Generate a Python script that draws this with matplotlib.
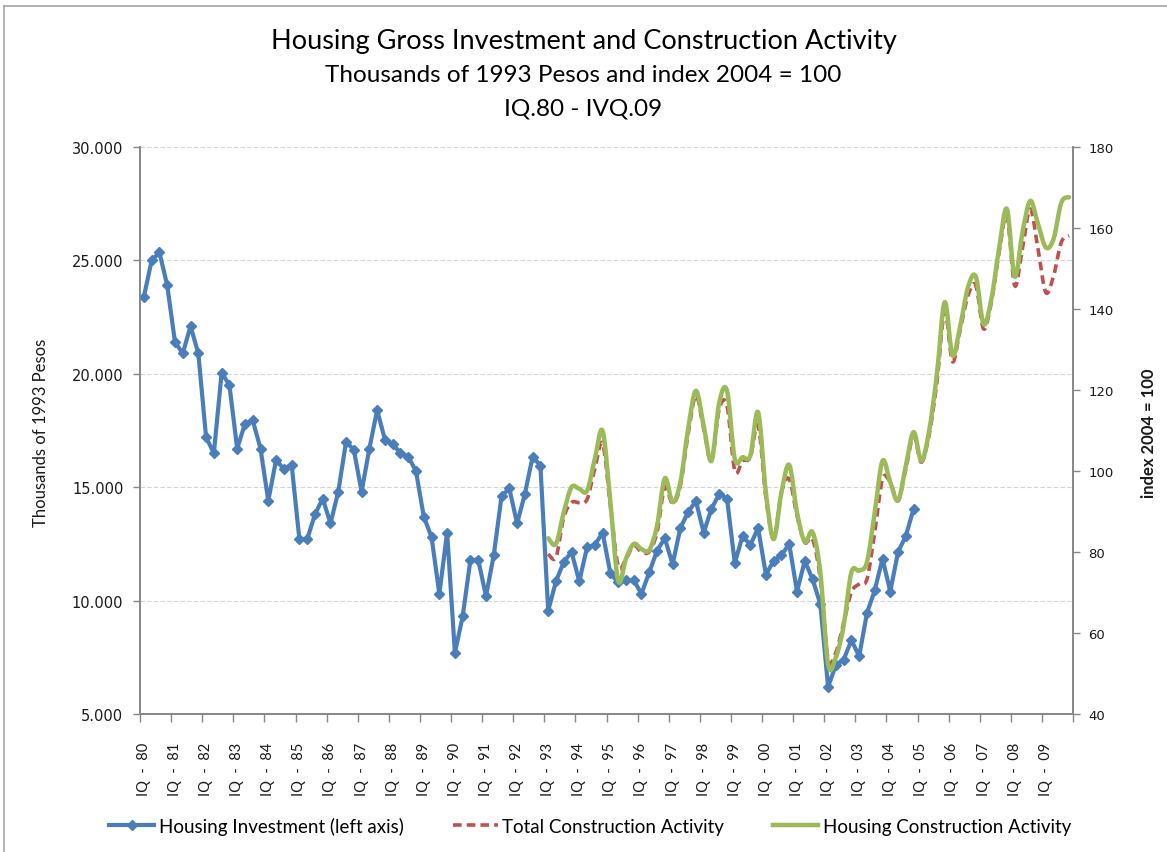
import numpy as np
import matplotlib.pyplot as plt
from matplotlib.path import Path
from matplotlib.patches import PathPatch
from matplotlib.lines import Line2D
from matplotlib.ticker import FuncFormatter

# quarter index 0 = IQ-80 ... 119 = IVQ-09
years = ["80", "81", "82", "83", "84", "85", "86", "87", "88", "89",
         "90", "91", "92", "93", "94", "95", "96", "97", "98", "99",
         "00", "01", "02", "03", "04", "05", "06", "07", "08", "09"]
n_quarters = 120

# Housing investment, thousands of 1993 pesos (IQ-80 .. IVQ-04)
housing_investment = [
    23400, 25000, 25350, 23900, 21400, 20900, 22100, 20900, 17200, 16500,
    20050, 19500, 16700, 17800, 17950, 16700, 14400, 16200, 15800, 16000,
    12700, 12700, 13800, 14500, 13400, 14800, 17000, 16650, 14800, 16700,
    18400, 17100, 16900, 16500, 16350, 15700, 13700, 12800, 10300, 13000,
    7700, 9300, 11800, 11800, 10200, 12000, 14600, 14950, 13400, 14700,
    16350, 15950, 9550, 10850, 11700, 12150, 10850, 12350, 12450, 13000,
    11200, 10800, 10900, 10900, 10300, 11250, 12200, 12750, 11600, 13200,
    13900, 14400, 13000, 14050, 14700, 14500, 11650, 12850, 12450, 13200,
    11150, 11750, 12000, 12500, 10400, 11750, 10950, 9850, 6200, 7150,
    7400, 8250, 7550, 9450, 10450, 11850, 10400, 12150, 12850, 14050,
]

# index 2004 = 100 (IQ-93 .. IVQ-09)
construction_start = 52
total_construction = [
    79.5, 78.7, 88.5, 92.2, 92.2, 93.0, 100.6, 106.8, 91.4, 76.6,
    78.3, 81.6, 80.0, 80.1, 84.9, 96.0, 91.9, 96.4, 109.1, 118.6,
    110.4, 102.5, 115.3, 116.1, 100.1, 102.5, 103.4, 111.2, 93.5, 83.2,
    94.7, 98.0, 89.0, 82.4, 83.2, 73.3, 53.6, 55.2, 62.5, 70.1,
    72.1, 73.3, 84.9, 98.0, 97.2, 92.7, 100.5, 108.7, 102.2, 109.0,
    122.0, 139.3, 127.0, 135.0, 143.3, 145.8, 135.1, 141.7, 154.0, 163.0,
    145.8, 155.0, 164.7, 154.8, 144.1, 148.2, 156.5, 158.1,
]
housing_construction = [
    83.4, 82.0, 89.8, 96.0, 95.6, 95.1, 103.0, 109.9, 92.3, 72.9,
    78.3, 82.0, 80.7, 80.5, 86.5, 98.2, 92.3, 97.2, 110.4, 119.8,
    111.2, 102.5, 116.9, 119.8, 103.0, 103.4, 103.8, 114.5, 94.7, 83.2,
    94.7, 101.5, 89.8, 82.5, 84.9, 75.0, 52.3, 54.0, 61.8, 75.0,
    75.4, 77.5, 89.8, 102.5, 97.2, 92.7, 101.3, 109.6, 102.5, 110.0,
    124.0, 141.7, 128.5, 135.9, 145.4, 148.0, 136.3, 142.5, 155.0, 164.7,
    148.0, 158.9, 166.7, 161.0, 155.2, 157.3, 166.3, 167.6,
]

BLUE = "#4A7EBB"
RED = "#C0504D"
GREEN = "#9BBB59"
GREY = "#868686"
TXT = "#1a1a1a"


def smooth_path(x, y):
    """Bezier path through the points, like Excel's smoothed line."""
    x = np.asarray(x, float)
    y = np.asarray(y, float)
    px = np.r_[x[0], x, x[-1]]
    py = np.r_[y[0], y, y[-1]]
    verts = [(x[0], y[0])]
    codes = [Path.MOVETO]
    for i in range(1, len(x)):
        c1 = (px[i] + (px[i + 1] - px[i - 1]) / 6, py[i] + (py[i + 1] - py[i - 1]) / 6)
        c2 = (px[i + 1] - (px[i + 2] - px[i]) / 6, py[i + 1] - (py[i + 2] - py[i]) / 6)
        verts += [c1, c2, (x[i], y[i])]
        codes += [Path.CURVE4] * 3
    return Path(verts, codes)


W, H = 1167, 853
fig = plt.figure(figsize=(W / 100, H / 100), dpi=100)
fig.patch.set_facecolor("white")

ax = fig.add_axes([140 / W, 1 - 715 / H, 933 / W, 567 / H])
ax2 = ax.twinx()

# left axis series
x_inv = np.arange(len(housing_investment))
ax.plot(x_inv, housing_investment, color=BLUE, lw=3.0, marker="D", ms=5,
        solid_joinstyle="round", zorder=3)

# right axis series (smoothed)
x_con = np.arange(construction_start, construction_start + len(total_construction))
ax2.add_patch(PathPatch(smooth_path(x_con, total_construction), fill=False,
                        edgecolor=RED, lw=2.6, linestyle=(0, (2.4, 1.4))))
ax2.add_patch(PathPatch(smooth_path(x_con, housing_construction), fill=False,
                        edgecolor=GREEN, lw=3.2, capstyle="round", joinstyle="round"))

# axes formatting
ax.set_xlim(-0.5, n_quarters - 0.5)
ax.set_ylim(5000, 30000)
ax.set_yticks(np.arange(5000, 30001, 5000))
ax.yaxis.set_major_formatter(FuncFormatter(lambda v, p: f"{v:,.0f}".replace(",", ".")))
ax2.set_ylim(40, 180)
ax2.set_yticks(np.arange(40, 181, 20))

ax.set_xticks(np.arange(0, n_quarters, 4))
ax.set_xticklabels([f"IQ  -  {y}" for y in years], rotation=90, va="top", ha="center",
                   family="Lato", fontsize=10.5, color=TXT)
ax.set_xticks(np.arange(-0.5, n_quarters, 4), minor=True)
ax.tick_params(axis="x", which="major", length=0, pad=20)
ax.tick_params(axis="x", which="minor", length=6, color=GREY, width=1)
ax.tick_params(axis="y", length=5, color=GREY, width=1, labelsize=10.5, labelcolor=TXT, pad=7)
ax2.tick_params(axis="y", length=5, color=GREY, width=1, labelsize=9.5, labelcolor=TXT, pad=6)

for a in (ax, ax2):
    a.spines["top"].set_visible(False)
    for s in ("left", "right", "bottom"):
        a.spines[s].set_color(GREY)
        a.spines[s].set_linewidth(1.2)

ax.set_axisbelow(True)
ax.yaxis.grid(True, color="#D4D4D4", lw=0.8, linestyle=(0, (4, 2)))

ax.set_ylabel("Thousands of 1993 Pesos", family="Lato", fontsize=12, color=TXT)
ax.yaxis.set_label_coords(49 / W, 1 - 433 / H, transform=fig.transFigure)
ax2.set_ylabel("index 2004 = 100", family="Lato", fontsize=12, fontweight="bold",
               color=TXT, rotation=90)
ax2.yaxis.set_label_coords(1141 / W, 1 - 433 / H, transform=fig.transFigure)

# titles
fig.text(0.5, 1 - 41 / H, "Housing Gross Investment and Construction Activity",
         ha="center", va="center", family="Lato", fontsize=19.5, color="black")
fig.text(0.5, 1 - 76 / H, "Thousands of 1993 Pesos and index 2004 = 100",
         ha="center", va="center", family="Lato", fontsize=17.5, color="black")
fig.text(0.5, 1 - 109 / H, "IQ.80 - IVQ.09",
         ha="center", va="center", family="Lato", fontsize=17.5, color="black")

# legend
handles = [
    Line2D([], [], color=BLUE, lw=3.0, marker="D", ms=5),
    Line2D([], [], color=RED, lw=2.6, linestyle=(0, (2.4, 1.4))),
    Line2D([], [], color=GREEN, lw=3.2),
]
labels = ["Housing Investment (left axis)", "Total Construction Activity",
          "Housing Construction Activity"]
fig.legend(handles, labels, loc="center", bbox_to_anchor=(590 / W, 1 - 827 / H),
           ncol=3, frameon=False, handlelength=2.4, handletextpad=0.25,
           columnspacing=2.6, prop={"family": "Lato", "size": 13.5})

# chart border (left and top edges visible in the reference)
fig.add_artist(Line2D([4 / W, 4 / W], [0, 1 - 7 / H], color="#A6A6A6", lw=1.2))
fig.add_artist(Line2D([4 / W, 1], [1 - 7 / H, 1 - 7 / H], color="#A6A6A6", lw=1.2))

fig.savefig("out.png", dpi=100)
